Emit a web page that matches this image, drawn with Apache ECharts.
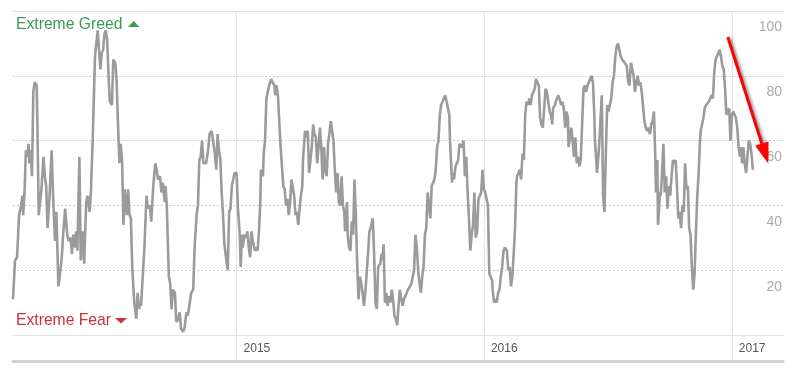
<!DOCTYPE html>
<html><head><meta charset="utf-8">
<script src="https://cdn.jsdelivr.net/npm/echarts@6/dist/echarts.min.js"></script>
<style>html,body{margin:0;padding:0;background:#fff}#c{width:794px;height:371px}</style>
</head><body><div id="c"></div>
<script>
// Days after 2014-02-05
const dayOffsets = [
0,3,6,8,9,12,14,15,17,19,21,23,24,26,28,30,32,35,36,38,40,42,45,47,49,51,54,57,59,62,64,67,69,72,74,77,80,82,85,87,89,92,93,95,98,100,103,105,108,110,113,115,118,121,124,125,127,129,131,133,135,137,139,141,143,146,148,151,153,155,157,159,161,163,165,168,170,172,174,176,179,
182,184,186,188,189,192,194,197,199,202,204,207,210,212,214,217,219,221,224,225,227,230,232,234,236,239,241,244,246,248,251,253,256,258,261,263,266,268,271,273,275,277,279,281,283,285,288,290,293,295,298,300,302,304,306,308,310,312,315,317,319,321,323,325,327,330,332,335,336,338,339,342,344,346,348,350,352,354,357,359,
361,363,365,366,369,370,372,374,376,378,381,383,386,387,389,391,393,395,397,399,401,403,405,407,409,411,413,415,417,419,421,423,425,427,428,431,432,435,437,439,441,443,445,447,449,451,453,455,457,459,461,463,465,467,469,471,473,475,477,479,481,483,485,487,489,490,493,494,496,498,500,502,504,506,508,510,512,514,516,518,520,522,524,526,528,531,533,535,537,539,542,544,
545,547,549,551,553,555,557,559,561,563,565,567,569,571,573,575,577,579,581,583,585,586,588,590,592,594,596,598,600,602,604,606,608,610,612,614,616,618,620,622,624,626,628,630,632,634,636,638,640,642,644,645,648,649,651,653,655,657,659,661,663,665,667,669,671,673,675,677,679,681,683,685,687,689,691,693,695,697,699,701,703,705,707,708,710,712,714,716,718,720,722,724,726,
729,731,733,735,737,739,741,743,744,746,748,750,752,754,756,758,760,762,764,766,768,770,772,774,776,778,780,782,784,786,788,790,792,794,796,797,800,801,803,805,807,809,811,813,815,817,819,820,822,824,826,828,830,832,834,836,838,840,842,844,846,848,850,852,854,856,858,859,862,863,865,867,869,871,873,875,877,879,881,883,885,887,889,891,893,895,897,899,901,903,
906,908,910,912,914,916,918,920,922,924,926,928,930,932,934,936,938,940,942,944,946,948,949,951,952,955,956,958,960,962,964,966,968,970,972,974,976,978,980,982,984,986,988,990,992,994,996,998,1000,1002,1004,1006,1008,1010,1012,1014,1015,1017,1019,1021,1023,1025,1027,1029,1031,1033,1035,1037,1039,1041,1043,1045,1047,1049,1051,1053,1055,1057,1059,1061,1063,1065,1067,1069,1071,1073,1075,1076,1078,1080,1082,1084,1086,1088,1090,1092
];
// Fear & Greed index values
const fgiValues = [
11,23,24,33,37,40,43,37,44,57,55,59,53,57,49,75,78,77,65,37,41,45,55,49,46,33,43,57,44,29,38,15,18,24,31,39,31,29,30,25,31,27,32,26,55,23,32,22,41,43,38,44,63,86,92,94,88,82,87,88,93,94,91,80,72,71,85,84,78,65,53,59,54,34,45,37,45,37,36,21,10,
5,13,8,10,9,20,27,43,39,40,35,46,53,51,48,49,44,47,41,46,40,18,16,8,14,13,4,5,7,2,1,2,7,6,10,13,14,27,37,40,54,55,60,53,53,53,57,62,63,63,56,51,62,57,54,44,37,28,23,20,38,39,46,48,50,50,39,30,21,31,27,31,30,32,27,24,32,29,26,27,
26,32,41,51,49,56,60,73,75,77,79,78,77,74,77,74,66,58,58,46,45,40,42,37,41,48,48,43,37,38,34,39,43,46,54,63,61,63,50,54,58,65,62,61,53,58,64,58,48,58,51,49,59,62,66,63,60,51,44,50,41,40,49,40,38,32,41,31,27,26,35,31,48,37,22,11,18,16,13,9,13,19,25,32,33,36,25,10,8,21,22,25,
23,28,10,13,9,12,10,14,11,6,5,3,9,14,14,9,11,12,13,14,14,15,16,16,20,31,27,20,16,13,18,21,31,33,44,44,36,46,47,48,51,58,60,68,71,71,73,74,72,70,68,60,47,50,48,52,52,54,59,59,58,60,49,55,44,36,26,31,34,44,30,32,42,43,44,51,45,44,42,40,19,18,17,14,10,11,10,13,14,18,21,26,27,
26,20,21,15,18,25,33,47,49,50,51,48,56,54,68,72,71,73,71,74,74,76,79,78,77,67,65,64,70,76,75,75,69,68,65,70,71,72,73,74,74,71,72,70,64,69,67,58,61,64,60,55,61,53,55,52,54,65,76,77,75,77,78,79,80,78,68,60,50,50,58,66,74,43,38,56,71,69,69,73,78,80,86,89,90,90,86,85,85,84,
83,78,77,84,84,80,75,78,80,77,78,75,75,66,64,63,64,62,65,66,69,55,44,54,34,44,43,50,59,44,49,39,46,43,49,54,53,54,46,36,38,33,40,38,53,45,46,33,31,21,14,19,32,43,50,60,63,63,67,70,71,71,72,72,74,73,81,85,86,87,88,86,83,82,76,68,69,70,60,68,69,69,67,64,58,55,58,53,58,53,50,55,60,59,56,51
];
const xRangeDays = [0, 1136.5];          // 2014-02-05 .. mid-March 2017
const yearTickDays = [330, 695, 1061];   // 2015-01-01, 2016-01-01, 2017-01-01
const yearLabels = ['2015', '2016', '2017'];
const zoneLabels = ['Extreme Greed', 'Extreme Fear'];
const arrowStart = [1055, 92];
const arrowEnd = [1110, 56];

const seriesData = dayOffsets.map((d, i) => [d, fgiValues[i]]);
const chart = echarts.init(document.getElementById('c'), null, {renderer: 'canvas'});
const GREEN = '#3a9a55', RED = '#c9323c', GRID = '#e2e2e2';
const hidden = {axisTick: {show: false}, axisLabel: {show: false}, splitLine: {show: false}};
chart.setOption({
  animation: false,
  grid: {left: 13, right: 11, top: 11, bottom: 36},
  xAxis: [
    {
      type: 'value', min: xRangeDays[0], max: xRangeDays[1],
      axisLine: {show: true, lineStyle: {color: GRID, width: 1}},
      axisTick: {show: true, length: 26, customValues: yearTickDays, lineStyle: {color: GRID, width: 1}},
      axisLabel: {show: true, customValues: yearTickDays,
        formatter: v => yearLabels[yearTickDays.indexOf(v)] || '',
        align: 'left', padding: [0, 0, 0, 7], margin: 14, verticalAlign: 'middle',
        color: '#555', fontSize: 12, fontFamily: 'Liberation Sans'},
      splitLine: {show: false}
    },
    {
      type: 'value', position: 'top', min: xRangeDays[0], max: xRangeDays[1],
      axisLine: {show: true, lineStyle: {color: '#dcdcdc', width: 1}},
      axisTick: {show: true, inside: true, length: 324, customValues: yearTickDays, lineStyle: {color: GRID, width: 1}},
      axisLabel: {show: false}, splitLine: {show: false}
    },
    Object.assign({
      type: 'value', position: 'bottom', offset: 26, min: xRangeDays[0], max: xRangeDays[1],
      axisLine: {show: true, lineStyle: {color: '#d0d0d0', width: 3}}
    }, hidden)
  ],
  yAxis: {
    type: 'value', position: 'right', min: 0, max: 100, interval: 20,
    axisLine: {show: false}, axisTick: {show: false},
    axisLabel: {inside: true, margin: 1, verticalAlign: 'top', lineHeight: 11,
      color: '#aaa', fontSize: 14, fontFamily: 'Liberation Sans',
      formatter: v => v === 0 ? '' : '\n' + v},
    splitLine: {show: true, lineStyle: {color: '#cacaca', width: 1, type: [2, 2]}}
  },
  series: [{
    type: 'line', xAxisIndex: 0, data: seriesData, showSymbol: false, symbol: 'none',
    lineStyle: {color: '#9b9b9b', width: 2.6}, itemStyle: {color: '#9b9b9b'}, z: 3,
    markLine: {
      silent: true, symbol: ['none', 'triangle'], symbolSize: [14, 21],
      label: {show: false},
      lineStyle: {color: '#ff0000', width: 3, type: 'solid', shadowColor: 'rgba(0,0,0,0.45)', shadowBlur: 3, shadowOffsetX: 2, shadowOffsetY: 1},
      data: [[{coord: arrowStart}, {coord: arrowEnd}]]
    }
  }],
  graphic: [
    {type: 'text', x: 16, y: 25, style: {text: zoneLabels[0], fill: GREEN, font: '15.7px "Liberation Sans"', verticalAlign: 'middle'}},
    {type: 'polygon', shape: {points: [[128, 27], [133.7, 21], [139.4, 27]]}, style: {fill: GREEN}},
    {type: 'text', x: 16, y: 321, style: {text: zoneLabels[1], fill: RED, font: '15.7px "Liberation Sans"', verticalAlign: 'middle'}},
    {type: 'polygon', shape: {points: [[115, 318], [121, 323.5], [127, 318]]}, style: {fill: RED}}
  ]
});
</script></body></html>
